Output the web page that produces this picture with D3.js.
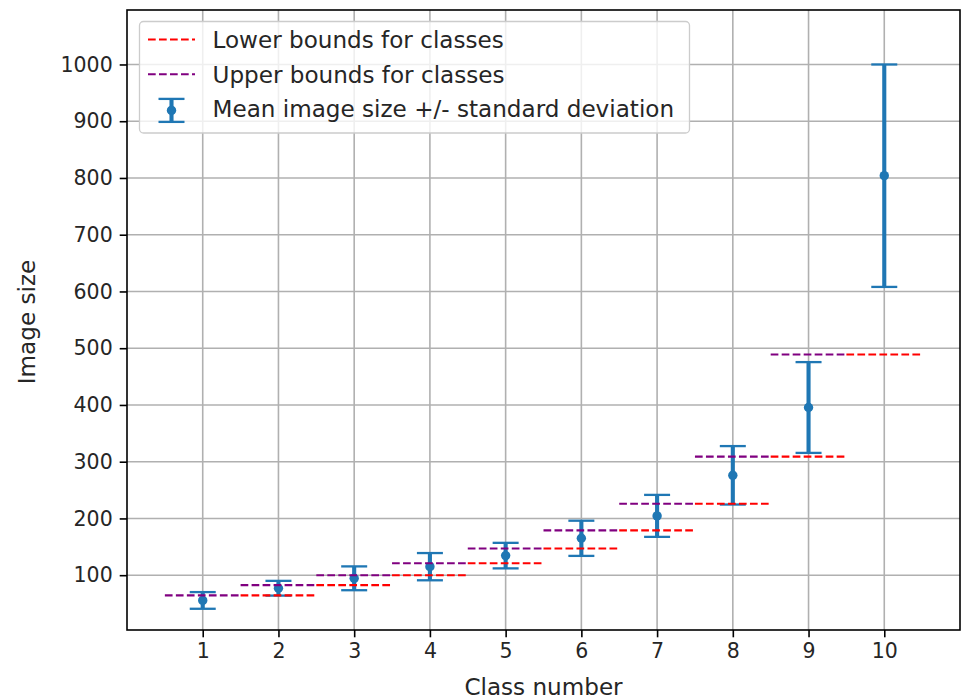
<!DOCTYPE html>
<html>
<head>
<meta charset="utf-8">
<script src="https://cdn.jsdelivr.net/npm/d3@7"></script>
<style>
  body { margin: 0; background: #ffffff; }
  svg { display: block; font-family: "DejaVu Sans", sans-serif; }
</style>
</head>
<body>
<svg id="chart" width="969" height="700"></svg>
<script>
// Per-class image size statistics
const classNumbers = [1, 2, 3, 4, 5, 6, 7, 8, 9, 10];
const meanSizes    = [55.5, 77, 94.5, 115, 134.5, 165, 204.5, 276, 395.5, 804];
const stdSizes     = [14.7, 13, 21, 24, 22.5, 31, 37, 51.5, 80, 196];
// Class boundaries (class 1 has no lower bound, class 10 no upper bound)
const lowerBounds  = [null, 64.5, 82.5, 100, 121, 147, 179, 226, 309, 489];
const upperBounds  = [64.5, 82.5, 100, 121, 147, 179, 226, 309, 489, null];
const yTickValues  = [100, 200, 300, 400, 500, 600, 700, 800, 900, 1000];
const legendLabels = ["Lower bounds for classes", "Upper bounds for classes", "Mean image size +/- standard deviation"];

const BLUE = "#1f77b4", RED = "#ff0000", PURPLE = "#800080";
const TICK_FONT = 20.5;
const LABEL_FONT = 23.1;

const plot = { left: 127, top: 10, right: 960, bottom: 630 };
const svg = d3.select("#chart");

const x = d3.scaleLinear().domain([0, 11]).range([plot.left, plot.right]);
const y = d3.scaleLinear().domain([3.4, 1096]).range([plot.bottom, plot.top]);

// Grid
const grid = svg.append("g").attr("stroke", "#b0b0b0").attr("stroke-width", 1.6);
grid.selectAll("line.gx").data(classNumbers).join("line")
  .attr("x1", d => x(d)).attr("x2", d => x(d))
  .attr("y1", plot.top).attr("y2", plot.bottom);
grid.selectAll("line.gy").data(yTickValues).join("line")
  .attr("y1", d => y(d)).attr("y2", d => y(d))
  .attr("x1", plot.left).attr("x2", plot.right);

// Error bars
const eb = svg.append("g");
const idx = d3.range(classNumbers.length);
eb.selectAll("line.bar").data(idx).join("line")
  .attr("x1", i => x(classNumbers[i])).attr("x2", i => x(classNumbers[i]))
  .attr("y1", i => y(meanSizes[i] - stdSizes[i]))
  .attr("y2", i => y(meanSizes[i] + stdSizes[i]))
  .attr("stroke", BLUE).attr("stroke-width", 4.1);
const capHalf = 13;
["lo", "hi"].forEach(k => {
  eb.selectAll("line.cap" + k).data(idx).join("line")
    .attr("x1", i => x(classNumbers[i]) - capHalf)
    .attr("x2", i => x(classNumbers[i]) + capHalf)
    .attr("y1", i => y(k === "lo" ? meanSizes[i] - stdSizes[i] : meanSizes[i] + stdSizes[i]))
    .attr("y2", i => y(k === "lo" ? meanSizes[i] - stdSizes[i] : meanSizes[i] + stdSizes[i]))
    .attr("stroke", BLUE).attr("stroke-width", 2.3);
});
eb.selectAll("circle").data(idx).join("circle")
  .attr("cx", i => x(classNumbers[i])).attr("cy", i => y(meanSizes[i]))
  .attr("r", 4.7).attr("fill", BLUE);

// Bound segments spanning each class
function drawBounds(values, color) {
  const g = svg.append("g");
  g.selectAll("line").data(idx.filter(i => values[i] != null)).join("line")
    .attr("x1", i => x(classNumbers[i] - 0.5)).attr("x2", i => x(classNumbers[i] + 0.5))
    .attr("y1", i => y(values[i])).attr("y2", i => y(values[i]))
    .attr("stroke", color).attr("stroke-width", 2.1)
    .attr("stroke-dasharray", "7.7,3.3");
}
drawBounds(lowerBounds, RED);
drawBounds(upperBounds, PURPLE);

// Frame
svg.append("rect")
  .attr("x", plot.left).attr("y", plot.top)
  .attr("width", plot.right - plot.left).attr("height", plot.bottom - plot.top)
  .attr("fill", "none").attr("stroke", "#000").attr("stroke-width", 1.6);

// Axes
const xAxis = svg.append("g").attr("transform", `translate(0,${plot.bottom})`)
  .call(d3.axisBottom(x).tickValues(classNumbers).tickFormat(d3.format("d")).tickSize(7.3).tickPadding(6));
const yAxis = svg.append("g").attr("transform", `translate(${plot.left},0)`)
  .call(d3.axisLeft(y).tickValues(yTickValues).tickFormat(d3.format("d")).tickSize(7.3).tickPadding(7));
[xAxis, yAxis].forEach(a => {
  a.select(".domain").remove();
  a.selectAll(".tick line").attr("stroke", "#000").attr("stroke-width", 1.6);
  a.selectAll(".tick text").attr("fill", "#262626")
    .style("font-family", "DejaVu Sans").style("font-size", TICK_FONT + "px");
});

// Axis titles
svg.append("text").attr("x", (plot.left + plot.right) / 2).attr("y", 695)
  .attr("text-anchor", "middle").attr("fill", "#262626")
  .style("font-size", LABEL_FONT + "px").text("Class number");
svg.append("text").attr("transform", `translate(35,${(plot.top + plot.bottom) / 2 + 2}) rotate(-90)`)
  .attr("text-anchor", "middle").attr("fill", "#262626")
  .style("font-size", LABEL_FONT + "px").text("Image size");

// Legend
const legend = svg.append("g");
legend.append("rect")
  .attr("x", 139.5).attr("y", 21.5).attr("width", 550).attr("height", 111.5)
  .attr("rx", 4).attr("fill", "#ffffff").attr("fill-opacity", 0.8)
  .attr("stroke", "#cccccc").attr("stroke-width", 1.3);
const rowY = [39.5, 74.2, 108.9];
[RED, PURPLE].forEach((c, i) => {
  legend.append("line").attr("x1", 148).attr("x2", 195)
    .attr("y1", rowY[i]).attr("y2", rowY[i])
    .attr("stroke", c).attr("stroke-width", 2.1).attr("stroke-dasharray", "7.7,3.3");
});
const lx = 171.5, ly = rowY[2] + 1.5;
legend.append("line").attr("x1", lx).attr("x2", lx).attr("y1", ly - 11.5).attr("y2", ly + 11.5)
  .attr("stroke", BLUE).attr("stroke-width", 4.1);
[ly - 11.5, ly + 11.5].forEach(cy => {
  legend.append("line").attr("x1", lx - capHalf).attr("x2", lx + capHalf)
    .attr("y1", cy).attr("y2", cy).attr("stroke", BLUE).attr("stroke-width", 2.3);
});
legend.append("circle").attr("cx", lx).attr("cy", ly).attr("r", 4.7).attr("fill", BLUE);
legendLabels.forEach((t, i) => {
  legend.append("text").attr("x", 212.5).attr("y", rowY[i])
    .attr("dy", "0.36em").attr("fill", "#262626")
    .style("font-size", LABEL_FONT + "px").text(t);
});
</script>
</body>
</html>
